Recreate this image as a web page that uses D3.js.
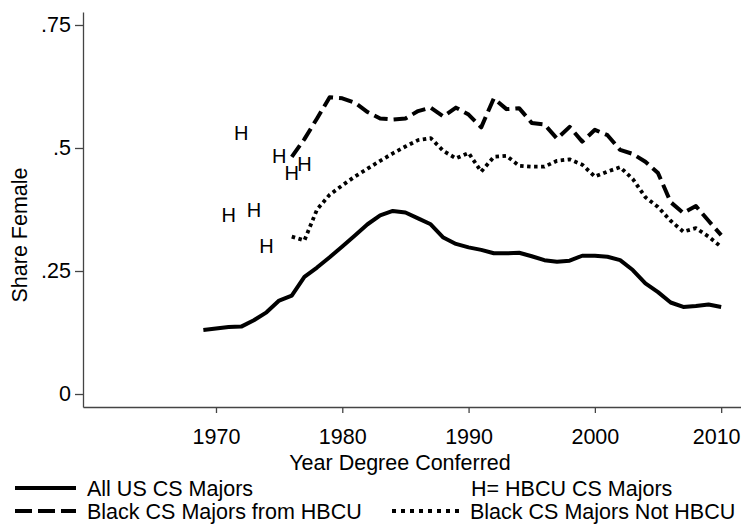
<!DOCTYPE html>
<html><head><meta charset="utf-8">
<script src="https://cdn.jsdelivr.net/npm/d3@7"></script>
<style>html,body{margin:0;padding:0;background:#fff;}svg{display:block;font-family:Arial,"Liberation Sans",Helvetica,sans-serif;}</style>
</head><body>
<svg id="c" width="741" height="525"></svg>
<script>
const allYears = d3.range(1969, 2011);
const allUS = [0.130,0.133,0.136,0.137,0.150,0.166,0.190,0.200,0.238,0.257,0.278,0.300,0.322,0.345,0.363,0.372,0.369,0.357,0.345,0.318,0.305,0.298,0.293,0.286,0.286,0.287,0.280,0.272,0.269,0.271,0.281,0.281,0.279,0.272,0.252,0.225,0.207,0.186,0.177,0.179,0.182,0.177];
const blackYears = d3.range(1976, 2011);
const blackHBCU = [0.482,0.518,0.560,0.603,0.601,0.592,0.573,0.560,0.558,0.560,0.575,0.582,0.564,0.582,0.568,0.542,0.601,0.579,0.581,0.551,0.548,0.519,0.543,0.513,0.537,0.526,0.496,0.488,0.472,0.449,0.390,0.368,0.382,0.352,0.323];
const blackNotHBCU = [0.320,0.312,0.375,0.405,0.424,0.442,0.458,0.474,0.489,0.503,0.516,0.520,0.494,0.479,0.490,0.452,0.482,0.484,0.464,0.462,0.462,0.474,0.477,0.466,0.442,0.452,0.461,0.437,0.400,0.380,0.352,0.330,0.337,0.320,0.299];
const hbcuYears = [1971,1972,1973,1974,1975,1976,1977];
const hbcuAll = [0.364,0.530,0.374,0.301,0.484,0.450,0.467];
const xTicks = [1970,1980,1990,2000,2010];
const yTicks = [0,0.25,0.5,0.75];
const yTickLabels = ["0",".25",".5",".75"];

const svg = d3.select("#c");
const x = d3.scaleLinear().domain([1959.47, 2011.57]).range([83, 741]);
const y = d3.scaleLinear().domain([-0.0264, 0.7764]).range([407, 12]);
const axisColor = "#444";
const fs = 21.5;
const ff = "Arial, 'Liberation Sans', sans-serif";

// Y axis
const gy = svg.append("g").attr("transform","translate(83,0)")
  .call(d3.axisLeft(y).tickValues(yTicks).tickFormat((d,i)=>yTickLabels[i]).tickSize(8).tickSizeOuter(0));
gy.select(".domain").attr("stroke",axisColor).attr("stroke-width",1.3);
gy.selectAll(".tick line").attr("stroke",axisColor).attr("stroke-width",1.3);
gy.selectAll(".tick text").attr("font-size",fs).attr("font-family",ff).attr("fill","#000").attr("x",-12);

// X axis
const gx = svg.append("g").attr("transform","translate(0,407)")
  .call(d3.axisBottom(x).tickValues(xTicks).tickFormat(d3.format("d")).tickSize(6).tickSizeOuter(0));
gx.select(".domain").attr("stroke",axisColor).attr("stroke-width",1.3);
gx.selectAll(".tick line").attr("stroke",axisColor).attr("stroke-width",1.3);
gx.selectAll(".tick text").attr("font-size",fs).attr("font-family",ff).attr("fill","#000").attr("y",22)
  .attr("dx", d => d === 2010 ? -5 : 0);

// Axis titles
svg.append("text").attr("x",400).attr("y",470).attr("text-anchor","middle").attr("font-size",fs).text("Year Degree Conferred");
svg.append("text").attr("transform","translate(27,235) rotate(-90)").attr("text-anchor","middle").attr("font-size",fs).text("Share Female");

const line = d3.line().x(d=>x(d[0])).y(d=>y(d[1]));
const styles = {
  solid: {dash:null, w:4},
  dashed: {dash:"14,6", w:4},
  dotted: {dash:"3.5,3.5", w:3.8}
};
function drawLine(years, vals, st){
  svg.append("path").datum(years.map((yr,i)=>[yr, vals[i]]))
    .attr("d", line).attr("fill","none").attr("stroke","#000")
    .attr("stroke-width", st.w).attr("stroke-linejoin","round")
    .attr("stroke-dasharray", st.dash);
}
drawLine(allYears, allUS, styles.solid);
drawLine(blackYears, blackHBCU, styles.dashed);
drawLine(blackYears, blackNotHBCU, styles.dotted);

// H markers
svg.append("g").selectAll("text").data(hbcuYears.map((yr,i)=>[yr,hbcuAll[i]])).join("text")
  .attr("x", d=>x(d[0])).attr("y", d=>y(d[1])).attr("dy","0.36em")
  .attr("text-anchor","middle").attr("font-size",20).text("H");

// Legend
const leg = svg.append("g");
function legLine(x1, x2, yy, st){
  leg.append("line").attr("x1",x1).attr("x2",x2).attr("y1",yy).attr("y2",yy)
    .attr("stroke","#000").attr("stroke-width",st.w).attr("stroke-dasharray",st.dash);
}
legLine(15, 76, 488, styles.solid);
leg.append("text").attr("x",87).attr("y",488).attr("dy","0.36em").attr("font-size",fs).text("All US CS Majors");
leg.append("text").attr("x",471).attr("y",488).attr("dy","0.36em").attr("font-size",fs).text("H= HBCU CS Majors");
legLine(15, 76, 511, {dash:"17,6", w:4});
leg.append("text").attr("x",87).attr("y",511).attr("dy","0.36em").attr("font-size",fs).text("Black CS Majors from HBCU");
legLine(392, 462, 511, {dash:"4,5", w:4});
leg.append("text").attr("x",470).attr("y",511).attr("dy","0.36em").attr("font-size",fs).text("Black CS Majors Not HBCU");
</script>
</body></html>
